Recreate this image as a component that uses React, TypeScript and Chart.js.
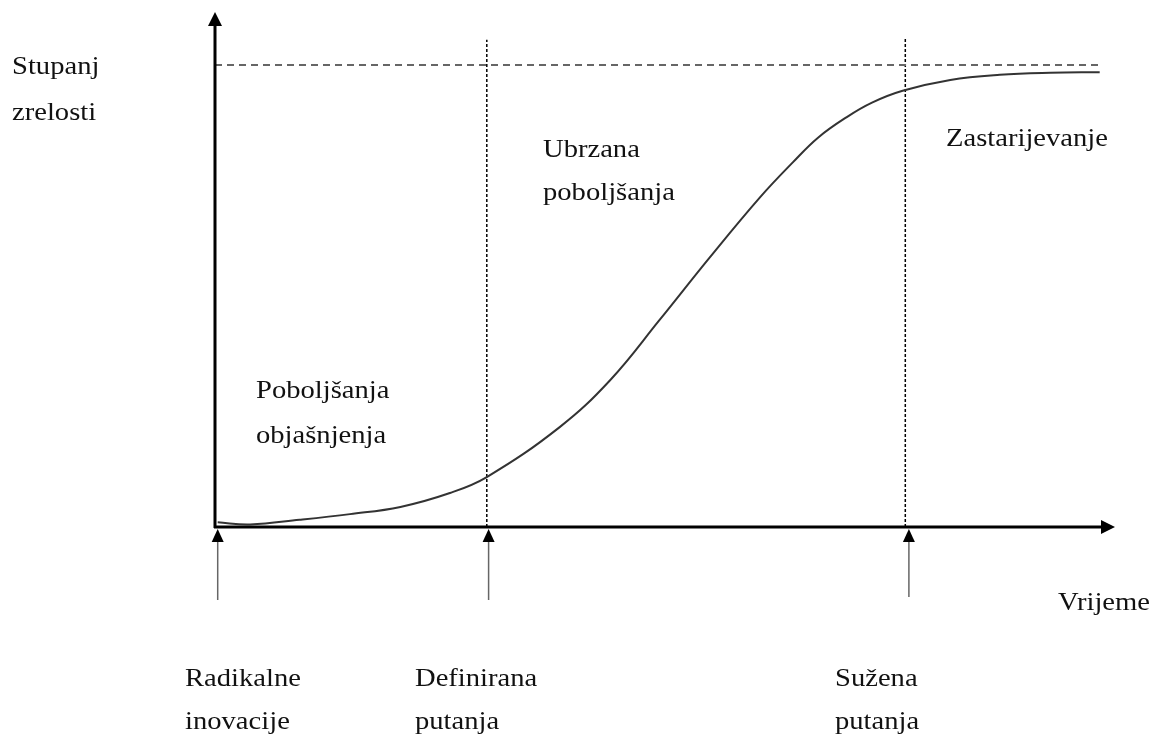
import React, { useEffect, useRef } from "react";
import { Chart, registerables } from "chart.js";

Chart.register(...registerables);

// Time (abstract units 0..100) and maturity (0..100) of the S-curve
const curveTime = [0.3, 3.9, 9.4, 15, 20.6, 26.1, 30.2, 38.3, 43.9, 49.4, 55.0, 60.6, 64.2, 67.0, 70.2, 73.0, 76.4, 81.7, 87.2, 92.8, 98.3];
const curveMaturity = [0.9, 0.5, 1.4, 2.5, 3.9, 6.6, 9.7, 19.4, 28.5, 40.2, 52.4, 64.1, 70.8, 75.6, 79.6, 82.4, 84.7, 86.8, 87.8, 88.2, 88.3];
const ceilingLevel = 89.7;
const ceilingEnd = 98.3;
const phaseBoundaries = [30.2, 76.7];
const phaseBoundaryTops = [94.6, 95.1];
const milestoneTimes = [0.3, 30.4, 77.1];
const milestoneLabels = [["Radikalne", "inovacije"], ["Definirana", "putanja"], ["Sužena", "putanja"]];
const phaseLabels = [["Poboljšanja", "objašnjenja"], ["Ubrzana", "poboljšanja"], ["Zastarijevanje"]];
const yAxisTitle = ["Stupanj", "zrelosti"];
const xAxisTitle = "Vrijeme";

const FONT = '26px "Liberation Serif", "Times New Roman", serif';
const SX = 1.1;

function drawText(ctx: CanvasRenderingContext2D, text: string, x: number, y: number) {
  ctx.save();
  ctx.translate(x, y);
  ctx.scale(SX, 1);
  ctx.fillText(text, 0, 0);
  ctx.restore();
}

const decorPlugin = {
  id: "decor",
  afterDatasetsDraw(chart: any) {
    const ctx: CanvasRenderingContext2D = chart.ctx;
    const xs = chart.scales.x;
    const ys = chart.scales.y;
    const x0 = xs.getPixelForValue(0);
    const y0 = ys.getPixelForValue(0);
    const xEnd = xs.right;
    const yTop = ys.top;
    ctx.save();
    // axes
    ctx.strokeStyle = "#000";
    ctx.fillStyle = "#000";
    ctx.lineWidth = 3;
    ctx.beginPath();
    ctx.moveTo(x0, y0 + 1);
    ctx.lineTo(x0, yTop + 10);
    ctx.moveTo(x0 - 1, y0);
    ctx.lineTo(xEnd - 10, y0);
    ctx.stroke();
    // y arrow head
    ctx.beginPath();
    ctx.moveTo(x0, yTop);
    ctx.lineTo(x0 - 7, yTop + 14);
    ctx.lineTo(x0 + 7, yTop + 14);
    ctx.closePath();
    ctx.fill();
    // x arrow head
    ctx.beginPath();
    ctx.moveTo(xEnd, y0);
    ctx.lineTo(xEnd - 14, y0 - 7);
    ctx.lineTo(xEnd - 14, y0 + 7);
    ctx.closePath();
    ctx.fill();
    // milestone arrows below axis
    milestoneTimes.forEach((t, i) => {
      const px = xs.getPixelForValue(t);
      const tip = y0 + 2;
      const bottom = i === 2 ? y0 + 70 : y0 + 73;
      ctx.strokeStyle = "#666";
      ctx.lineWidth = 1.5;
      ctx.beginPath();
      ctx.moveTo(px, bottom);
      ctx.lineTo(px, tip + 10);
      ctx.stroke();
      ctx.fillStyle = "#000";
      ctx.beginPath();
      ctx.moveTo(px, tip);
      ctx.lineTo(px - 6, tip + 13);
      ctx.lineTo(px + 6, tip + 13);
      ctx.closePath();
      ctx.fill();
    });
    // text
    ctx.fillStyle = "#111";
    ctx.font = FONT;
    ctx.textBaseline = "alphabetic";
    ctx.textAlign = "left";
    drawText(ctx, yAxisTitle[0], 12, 74);
    drawText(ctx, yAxisTitle[1], 12, 120);
    drawText(ctx, xAxisTitle, 1058, 610);
    drawText(ctx, phaseLabels[0][0], 256, 398);
    drawText(ctx, phaseLabels[0][1], 256, 443);
    drawText(ctx, phaseLabels[1][0], 543, 157);
    drawText(ctx, phaseLabels[1][1], 543, 200);
    drawText(ctx, phaseLabels[2][0], 946, 146);
    const mlX = [185, 415, 835];
    milestoneLabels.forEach((lines, i) => {
      drawText(ctx, lines[0], mlX[i], 686);
      drawText(ctx, lines[1], mlX[i], 729);
    });
    ctx.restore();
  },
};

export default function App() {
  const ref = useRef<HTMLCanvasElement | null>(null);
  useEffect(() => {
    if (!ref.current) return;
    const curve = curveTime.map((t, i) => ({ x: t, y: curveMaturity[i] }));
    const datasets: any[] = [
      {
        data: curve,
        borderColor: "#333",
        borderWidth: 2,
        pointRadius: 0,
        tension: 0.4,
      },
      {
        data: [
          { x: 0, y: ceilingLevel },
          { x: ceilingEnd, y: ceilingLevel },
        ],
        borderColor: "#666",
        borderWidth: 2,
        borderDash: [7, 5],
        pointRadius: 0,
      },
    ];
    phaseBoundaries.forEach((b, i) => {
      datasets.push({
        data: [
          { x: b, y: 0 },
          { x: b, y: phaseBoundaryTops[i] },
        ],
        borderColor: "#000",
        borderWidth: 1.5,
        borderDash: [3, 2],
        pointRadius: 0,
      });
    });
    const chart = new Chart(ref.current, {
      type: "line",
      data: { datasets },
      options: {
        animation: false,
        responsive: false,
        devicePixelRatio: 1,
        layout: { padding: { left: 215, right: 41, top: 12, bottom: 210 } },
        plugins: { legend: { display: false }, tooltip: { enabled: false } },
        scales: {
          x: { type: "linear", min: 0, max: 100, display: false },
          y: { type: "linear", min: 0, max: 100, display: false },
        },
      },
      plugins: [decorPlugin],
    });
    return () => chart.destroy();
  }, []);
  return (
    <div style={{ position: "absolute", left: 0, top: 0, width: 1156, height: 737, background: "#fff" }}>
      <canvas ref={ref} width={1156} height={737} />
    </div>
  );
}
